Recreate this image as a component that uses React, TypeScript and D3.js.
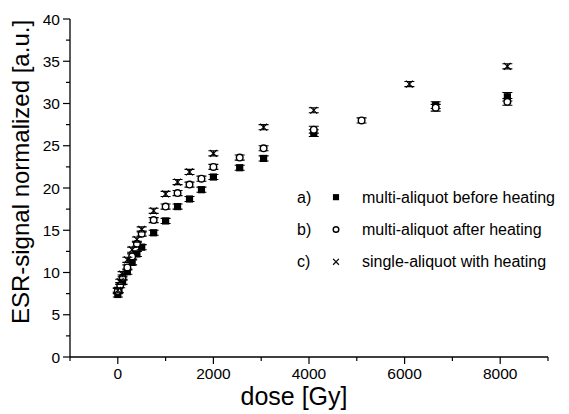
import React from "react";
import * as d3 from "d3";

const dosesA = [0, 25, 100, 200, 300, 400, 500, 750, 1000, 1250, 1500, 1750, 2000, 2550, 3050, 4100, 6650, 8150];
const valuesA = [7.4, 7.9, 8.9, 10.1, 11.2, 12.2, 13.0, 14.7, 16.1, 17.8, 18.7, 19.8, 21.3, 22.4, 23.5, 26.5, 29.8, 30.8];
const errA = [0.3, 0.3, 0.3, 0.3, 0.3, 0.3, 0.3, 0.3, 0.3, 0.3, 0.3, 0.3, 0.3, 0.3, 0.3, 0.4, 0.4, 0.5];

const dosesB = [0, 50, 100, 200, 300, 400, 500, 750, 1000, 1250, 1500, 1750, 2000, 2550, 3050, 4100, 5100, 6650, 8150];
const valuesB = [7.8, 8.5, 9.4, 10.6, 11.9, 13.4, 14.6, 16.2, 17.8, 19.4, 20.4, 21.1, 22.5, 23.6, 24.7, 26.9, 28.0, 29.5, 30.2];
const errB = [0.3, 0.3, 0.3, 0.3, 0.3, 0.3, 0.3, 0.3, 0.3, 0.3, 0.3, 0.3, 0.3, 0.3, 0.3, 0.4, 0.3, 0.4, 0.4];

const dosesC = [0, 50, 100, 200, 300, 400, 500, 750, 1000, 1250, 1500, 2000, 3050, 4100, 6100, 8150];
const valuesC = [7.9, 8.9, 9.8, 11.5, 12.7, 13.9, 15.1, 17.3, 19.3, 20.7, 21.9, 24.1, 27.2, 29.2, 32.3, 34.4];
const errC = [0.3, 0.3, 0.3, 0.3, 0.3, 0.3, 0.3, 0.3, 0.3, 0.3, 0.3, 0.3, 0.3, 0.3, 0.3, 0.3];

const xTickLabels = [0, 2000, 4000, 6000, 8000];
const yTickLabels = [0, 5, 10, 15, 20, 25, 30, 35, 40];
const legendLabels = ["multi-aliquot before heating", "multi-aliquot after heating", "single-aliquot with heating"];
const legendKeys = ["a)", "b)", "c)"];

const FONT = "'Liberation Sans', Arial, Helvetica, sans-serif";

export default function App() {
  const W = 569, H = 414;
  const x = d3.scaleLinear().domain([-1000, 9000]).range([70, 548]);
  const y = d3.scaleLinear().domain([0, 40]).range([357, 19]);

  const xMinor = d3.range(-1000, 9001, 1000);
  const yMinor = d3.range(0, 40.01, 2.5);

  const marker = (kind: string, cx: number, cy: number, key: string, s = 1) => {
    if (kind === "a") {
      const h = 3.6 * s;
      return <rect key={key} x={cx - h} y={cy - h} width={2 * h} height={2 * h} fill="#000" />;
    }
    if (kind === "b") {
      return <circle key={key} cx={cx} cy={cy} r={3.3 * s} fill="#fff" stroke="#000" strokeWidth={1.4} />;
    }
    const h = 3.4 * s;
    return (
      <path key={key} d={`M${cx - h},${cy - h}L${cx + h},${cy + h}M${cx - h},${cy + h}L${cx + h},${cy - h}`} stroke="#000" strokeWidth={1.2} fill="none" />
    );
  };

  const series = (kind: string, doses: number[], vals: number[], errs: number[]) =>
    doses.map((dv, i) => {
      const cx = x(dv), cy = y(vals[i]);
      const top = y(vals[i] + errs[i]), bot = y(vals[i] - errs[i]);
      const cw = 5;
      return (
        <g key={kind + i}>
          <path d={`M${cx},${top}L${cx},${bot}M${cx - cw},${top}L${cx + cw},${top}M${cx - cw},${bot}L${cx + cw},${bot}`} stroke="#000" strokeWidth={1.1} fill="none" />
          {marker(kind, cx, cy, "m" + kind + i)}
        </g>
      );
    });

  const legendY = d3.scaleBand<number>().domain([0, 1, 2]).range([181, 278]);

  return (
    <svg width={W} height={H} style={{ position: "absolute", left: 0, top: 0, background: "#fff" }} fontFamily={FONT}>
      <rect width={W} height={H} fill="#fff" />
      {/* axes */}
      <line x1={x(-1000)} x2={x(9000)} y1={y(0)} y2={y(0)} stroke="#000" strokeWidth={1.3} />
      <line x1={x(-1000)} x2={x(-1000)} y1={y(0)} y2={y(40)} stroke="#000" strokeWidth={1.3} />
      {xMinor.map((t) => {
        const major = xTickLabels.includes(t);
        return <line key={"xt" + t} x1={x(t)} x2={x(t)} y1={y(0)} y2={y(0) + (major ? 7 : 4)} stroke="#000" strokeWidth={1.2} />;
      })}
      {yMinor.map((t) => {
        const major = yTickLabels.includes(t);
        return <line key={"yt" + t} x1={x(-1000)} x2={x(-1000) - (major ? 7 : 4)} y1={y(t)} y2={y(t)} stroke="#000" strokeWidth={1.2} />;
      })}
      {xTickLabels.map((t) => (
        <text key={"xl" + t} x={x(t)} y={y(0) + 22} textAnchor="middle" fontSize={15.5} fill="#000">{t}</text>
      ))}
      {yTickLabels.map((t) => (
        <text key={"yl" + t} x={x(-1000) - 10} y={y(t) + 5.5} textAnchor="end" fontSize={15.5} fill="#000">{t}</text>
      ))}
      <text x={294} y={405} textAnchor="middle" fontSize={25} fill="#000">dose [Gy]</text>
      <text transform={`translate(29,${172}) rotate(-90)`} textAnchor="middle" fontSize={24} fill="#000">ESR-signal normalized [a.u.]</text>

      {series("a", dosesA, valuesA, errA)}
      {series("b", dosesB, valuesB, errB)}
      {series("c", dosesC, valuesC, errC)}

      {legendKeys.map((k, i) => {
        const cy = (legendY(i) as number) + legendY.bandwidth() / 2;
        return (
          <g key={"lg" + i}>
            <text x={297} y={cy + 5.5} fontSize={16} fill="#000">{k}</text>
            {marker(["a", "b", "c"][i], 336, cy, "lm" + i, 0.85)}
            <text x={362} y={cy + 5.5} fontSize={16} fill="#000">{legendLabels[i]}</text>
          </g>
        );
      })}
    </svg>
  );
}
